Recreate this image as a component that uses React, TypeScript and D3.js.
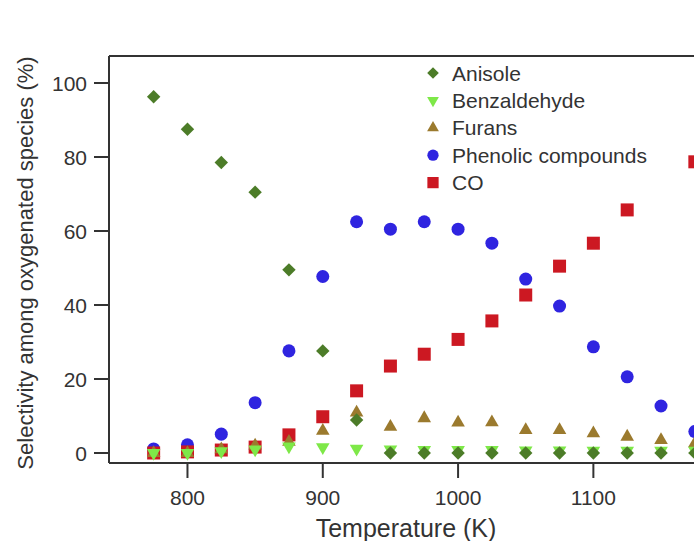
import * as d3 from "d3"

const temperatures = [775, 800, 825, 850, 875, 900, 925, 950, 975, 1000, 1025, 1050, 1075, 1100, 1125, 1150, 1175]
const anisole = [96.3, 87.5, 78.5, 70.5, 49.5, 27.6, 8.9, 0, 0, 0, 0, 0, 0, 0, 0, 0, 0]
const benzaldehyde = [0, 0, 0.5, 1, 1.8, 1.6, 1.2, 1, 0.8, 0.8, 0.8, 0.7, 0.7, 0.6, 0.6, 0.6, 0.6]
const furans = [0, 0, 1, 2, 3, 6, 10.9, 7.1, 9.4, 8.2, 8.3, 6.2, 6.2, 5.3, 4.4, 3.5, 2.6]
const phenolics = [1.1, 2.2, 5.1, 13.6, 27.6, 47.7, 62.5, 60.5, 62.5, 60.5, 56.7, 47, 39.7, 28.7, 20.6, 12.7, 5.8]
const co = [0, 0.3, 0.8, 1.6, 4.9, 9.8, 16.8, 23.5, 26.7, 30.7, 35.7, 42.7, 50.5, 56.7, 65.7, null, 78.7]

const xTicks = [800, 900, 1000, 1100]
const yTicks = [0, 20, 40, 60, 80, 100]

type Series = {
  name: string
  values: (number | null)[]
  color: string
  symbol: d3.SymbolType
  size: number
  rotate: number
}

const series: Series[] = [
  { name: "Anisole", values: anisole, color: "#4c7c28", symbol: d3.symbolSquare, size: 90, rotate: 45 },
  { name: "Benzaldehyde", values: benzaldehyde, color: "#7ee848", symbol: d3.symbolTriangle, size: 80, rotate: 180 },
  { name: "Furans", values: furans, color: "#9b7a2e", symbol: d3.symbolTriangle, size: 80, rotate: 0 },
  { name: "Phenolic compounds", values: phenolics, color: "#2f24e0", symbol: d3.symbolCircle, size: 133, rotate: 0 },
  { name: "CO", values: co, color: "#cc1822", symbol: d3.symbolSquare, size: 169, rotate: 0 },
]

// paint order so low values overlap as in the original
const drawOrder = [3, 4, 2, 1, 0]

const W = 694
const H = 541
const left = 109
const top = 56
const bottom = 463

const x = d3.scaleLinear().domain([742, 1200]).range([left, left + 458 * 1.353])
const y = d3.scaleLinear().domain([0, 100]).range([453, 83])

const font = "'Liberation Sans', Arial, sans-serif"
const axisColor = "#333"

export default function App() {
  const right = x(1200)
  return (
    <svg
      width={W}
      height={H}
      style={{ position: "absolute", left: 0, top: 0, background: "#fff", display: "block" }}
      fontFamily={font}
    >
      {/* frame */}
      <line x1={left} x2={right} y1={top} y2={top} stroke={axisColor} strokeWidth={2} />
      <line x1={left} x2={left} y1={top} y2={bottom} stroke={axisColor} strokeWidth={2} />
      <line x1={left} x2={right} y1={bottom} y2={bottom} stroke={axisColor} strokeWidth={2} />
      <line x1={right} x2={right} y1={top} y2={bottom} stroke={axisColor} strokeWidth={2} />

      {/* y axis */}
      {yTicks.map((t) => (
        <g key={t} transform={`translate(${left},${y(t)})`}>
          <line x1={-15} x2={0} stroke={axisColor} strokeWidth={2} />
          <text x={-22} dy="0.36em" textAnchor="end" fontSize={21} fill="#333">
            {t}
          </text>
        </g>
      ))}

      {/* x axis */}
      {xTicks.map((t) => (
        <g key={t} transform={`translate(${x(t)},${bottom})`}>
          <line y1={0} y2={15} stroke={axisColor} strokeWidth={2} />
          <text y={42} textAnchor="middle" fontSize={21} fill="#333">
            {t}
          </text>
        </g>
      ))}

      <text x={406} y={537} textAnchor="middle" fontSize={25} fill="#333">
        Temperature (K)
      </text>
      <text transform="translate(33,263) rotate(-90)" textAnchor="middle" fontSize={22} fill="#333">
        Selectivity among oxygenated species (%)
      </text>

      {/* points */}
      {drawOrder.map((si) => {
        const s = series[si]
        const path = d3.symbol().type(s.symbol).size(s.size)() ?? ""
        return (
          <g key={s.name}>
            {s.values.map((v, i) =>
              v === null ? null : (
                <path
                  key={i}
                  d={path}
                  fill={s.color}
                  transform={`translate(${x(temperatures[i])},${y(v)}) rotate(${s.rotate})`}
                />
              ),
            )}
          </g>
        )
      })}

      {/* legend */}
      {series.map((s, i) => {
        const path = d3.symbol().type(s.symbol).size(s.size * 0.75)() ?? ""
        const ly = 73 + i * 27.4
        return (
          <g key={s.name} transform={`translate(433,${ly})`}>
            <path d={path} fill={s.color} transform={`rotate(${s.rotate})`} />
            <text x={19} dy="0.36em" fontSize={21} fill="#333">
              {s.name}
            </text>
          </g>
        )
      })}
    </svg>
  )
}
